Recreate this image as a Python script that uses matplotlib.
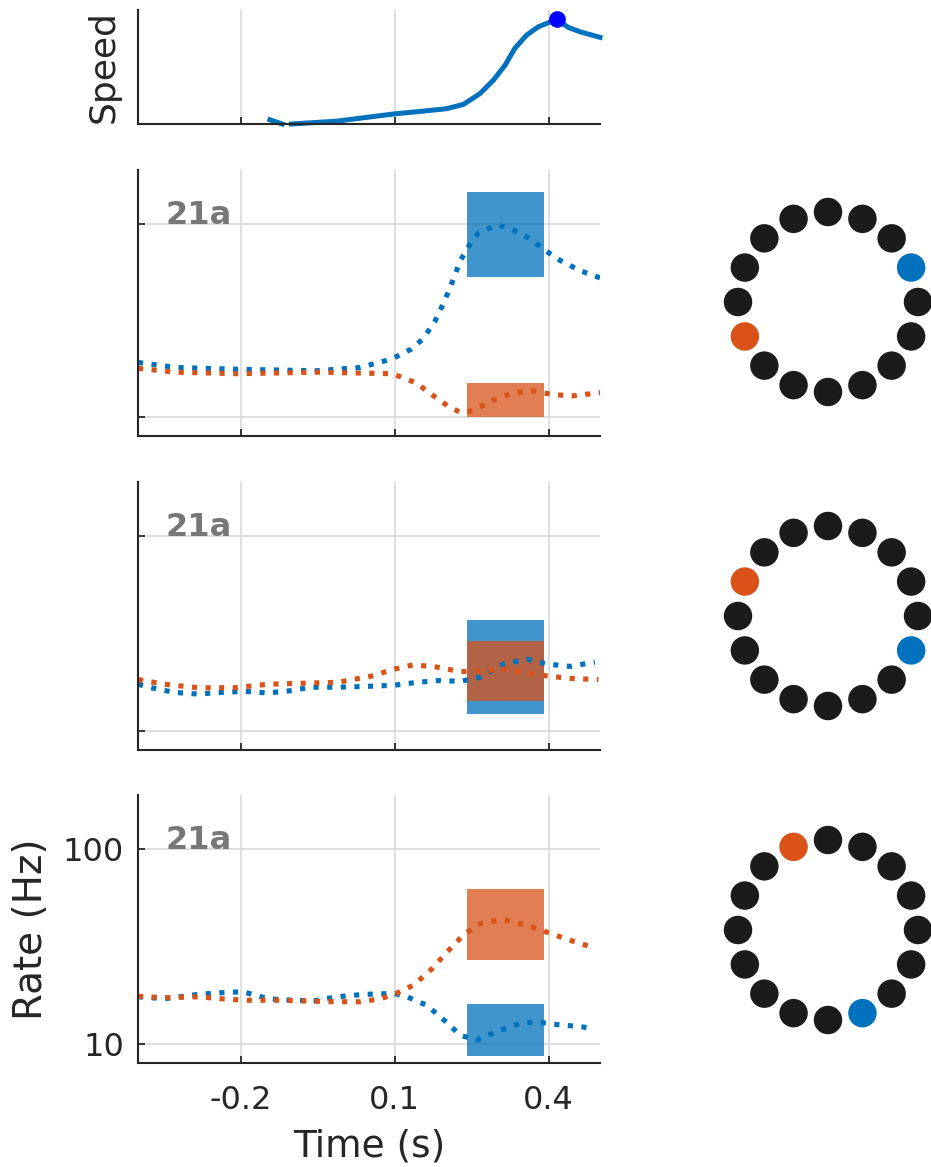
import numpy as np
import matplotlib
matplotlib.use("Agg")
from matplotlib import pyplot as plt
from matplotlib.ticker import NullLocator

# colours (matlab default order)
BLUE = "#0072BD"
ORANGE = "#D95319"
DOT = "#1b1b1b"
AXCOL = "#262626"
GRIDCOL = "#dcdcdc"

# ---- data ----
xticks = [-0.2, 0.1, 0.4]
xtick_labels = ["-0.2", "0.1", "0.4"]
yticks = [10, 100]
ytick_labels = ["10", "100"]
box_window = [0.24, 0.39]
area_label = "21a"

# speed trace (arbitrary units), nan = gap in the trace
speed_t = [-0.143, -0.119, np.nan, -0.101, -0.013, 0.102, 0.149, 0.201, 0.234, 0.266,
           0.292, 0.315, 0.334, 0.357, 0.380, 0.399, 0.416, 0.438, 0.461, 0.5]
speed_v = [0.037, 0.0, np.nan, 0.0, 0.025, 0.09, 0.110, 0.134, 0.172, 0.266,
           0.383, 0.515, 0.663, 0.780, 0.853, 0.888, 0.918, 0.848, 0.809, 0.760]
peak_t = 0.416
peak_v = 0.918

# panel 1
p1_blue_t = [-0.4, -0.327, -0.205, -0.051, 0.033, 0.094, 0.132, 0.155, 0.178, 0.197,
             0.213, 0.228, 0.243, 0.263, 0.301, 0.331, 0.362, 0.393, 0.423, 0.462, 0.5]
p1_blue_rate = [19.2, 18.1, 17.7, 17.4, 18.1, 20.0, 22.5, 25.4, 31.2, 39.8,
                50.7, 64.6, 75.7, 89.7, 98.9, 93.0, 84.3, 73.0, 64.6, 57.2, 52.6]
p1_orange_t = [-0.4, -0.327, -0.205, -0.051, 0.094, 0.117, 0.140, 0.163, 0.186,
               0.209, 0.232, 0.255, 0.293, 0.331, 0.370, 0.408, 0.446, 0.5]
p1_orange_rate = [17.9, 17.1, 16.8, 17.1, 16.8, 16.0, 15.1, 13.7, 12.3,
                  11.2, 10.5, 10.9, 12.3, 13.4, 13.7, 13.1, 12.9, 13.4]
p1_blue_box = [53, 147]
p1_orange_box = [10, 15]

# panel 2
p2_blue_t = [-0.4, -0.374, -0.329, -0.283, -0.238, -0.193, -0.147, -0.105, -0.063, -0.012,
             0.053, 0.099, 0.144, 0.189, 0.228, 0.267, 0.312, 0.358, 0.396, 0.442, 0.49]
p2_blue_rate = [17.4, 16.7, 15.8, 15.5, 15.8, 16.0, 15.7, 16.1, 16.8, 16.8,
                17.0, 17.2, 17.8, 18.2, 18.0, 18.9, 22.1, 23.4, 22.1, 21.5, 22.6]
p2_orange_t = [-0.4, -0.348, -0.283, -0.212, -0.147, -0.083, -0.012, 0.053, 0.099,
               0.137, 0.183, 0.228, 0.273, 0.315, 0.361, 0.403, 0.448, 0.497]
p2_orange_rate = [18.4, 17.4, 16.7, 16.7, 17.4, 17.6, 17.8, 19.1, 20.8,
                  21.9, 21.3, 20.2, 20.4, 20.8, 19.8, 19.1, 18.6, 18.4]
p2_blue_box = [12.3, 37]
p2_orange_box = [14.3, 29.1]

# panel 3
p3_blue_t = [-0.4, -0.348, -0.283, -0.219, -0.193, -0.147, -0.102, -0.057, -0.012, 0.040, 0.099,
             0.124, 0.163, 0.196, 0.228, 0.260, 0.299, 0.345, 0.377, 0.416, 0.461, 0.49]
p3_blue_rate = [17.5, 17.1, 18.0, 18.5, 18.5, 17.1, 16.8, 16.7, 17.5, 18.0, 18.2,
                17.5, 15.8, 13.3, 11.1, 10.5, 11.6, 12.8, 13.0, 12.6, 12.3, 12.0]
p3_orange_t = [-0.4, -0.348, -0.283, -0.238, -0.193, -0.122, -0.057, -0.012, 0.034, 0.073, 0.105,
               0.137, 0.173, 0.202, 0.235, 0.267, 0.312, 0.358, 0.396, 0.442, 0.487]
p3_orange_rate = [17.6, 17.3, 17.5, 17.1, 16.8, 16.8, 16.6, 16.5, 16.5, 17.1, 18.3,
                  20.1, 24.4, 29.7, 36.6, 41.6, 43.6, 40.7, 37.6, 34.1, 31.3]
p3_blue_box = [8.7, 16]
p3_orange_box = [27, 62.5]

# target ring: 16 targets, angle (deg) of the blue / orange target per panel
ring_angles = np.arange(16) * 22.5
blue_target = [22.5, 337.5, 292.5]
orange_target = [202.5, 157.5, 112.5]

W, H = 931, 1167


def px_axes(fig, left, top, right, bottom):
    # axes from pixel box (top-left origin)
    return fig.add_axes([left / W, (H - bottom) / H, (right - left) / W, (bottom - top) / H])


def style_axes(ax):
    for s in ["top", "right"]:
        ax.spines[s].set_visible(False)
    for s in ["left", "bottom"]:
        ax.spines[s].set_color(AXCOL)
        ax.spines[s].set_linewidth(1.5)
    ax.tick_params(direction="in", length=5, width=1.3, color=AXCOL,
                   labelcolor=AXCOL, labelsize=23)
    ax.tick_params(axis="x", pad=15.5)
    ax.tick_params(axis="y", pad=10)
    ax.set_xlim(-0.4, 0.5)
    ax.set_xticks(xticks)
    ax.set_axisbelow(True)


def rate_panel(ax, blue_t, blue_r, orange_t, orange_r, blue_box, orange_box, last=False):
    style_axes(ax)
    ax.set_yscale("log")
    ax.set_ylim(8, 190)
    ax.set_yticks(yticks)
    ax.yaxis.set_minor_locator(NullLocator())
    ax.grid(True, color=GRIDCOL, linewidth=1.3)
    if last:
        ax.set_yticklabels(ytick_labels)
        ax.set_xticklabels(xtick_labels)
    else:
        ax.set_yticklabels([])
        ax.set_xticklabels([])
    # blue first, then orange on top
    ax.fill_between(box_window, blue_box[0], blue_box[1], color=BLUE, alpha=0.75, lw=0)
    ax.plot(blue_t, blue_r, ":", color=BLUE, lw=3.7)
    ax.fill_between(box_window, orange_box[0], orange_box[1], color=ORANGE, alpha=0.75, lw=0)
    ax.plot(orange_t, orange_r, ":", color=ORANGE, lw=3.7)
    ax.text(-0.347, 100, area_label, fontsize=23, fontweight="bold", color="#777777",
            ha="left", va="baseline")


def ring(fig, cy, blue_a, orange_a):
    ax = px_axes(fig, 828 - 105, cy - 105, 828 + 105, cy + 105)
    ax.set_xlim(-1.1667, 1.1667)
    ax.set_ylim(-1.1667, 1.1667)
    ax.axis("off")
    cols = []
    for a in ring_angles:
        if np.isclose(a, blue_a):
            cols.append(BLUE)
        elif np.isclose(a, orange_a):
            cols.append(ORANGE)
        else:
            cols.append(DOT)
    th = np.deg2rad(ring_angles)
    ax.scatter(np.cos(th), np.sin(th), s=420, c=cols, linewidths=0, clip_on=False)


fig = plt.figure(figsize=(W / 100, H / 100), dpi=100)

# speed panel
ax0 = px_axes(fig, 138, 10, 600, 124)
style_axes(ax0)
ax0.set_ylim(0, 1)
ax0.set_yticks([])
ax0.set_xticklabels([])
ax0.grid(True, axis="x", color=GRIDCOL, linewidth=1.3)
ax0.plot(speed_t, speed_v, "-", color=BLUE, lw=3.6, clip_on=False)
ax0.plot(peak_t, peak_v, "o", color="#0000FF", markersize=11, clip_on=False)
ax0.set_ylabel("Speed", fontsize=26, color=AXCOL, labelpad=12.5)

ax1 = px_axes(fig, 138, 170, 600, 436)
rate_panel(ax1, p1_blue_t, p1_blue_rate, p1_orange_t, p1_orange_rate, p1_blue_box, p1_orange_box)
ax2 = px_axes(fig, 138, 482, 600, 750)
rate_panel(ax2, p2_blue_t, p2_blue_rate, p2_orange_t, p2_orange_rate, p2_blue_box, p2_orange_box)
ax3 = px_axes(fig, 138, 795, 600, 1063)
rate_panel(ax3, p3_blue_t, p3_blue_rate, p3_orange_t, p3_orange_rate, p3_blue_box, p3_orange_box, last=True)
ax3.set_ylabel("Rate (Hz)", fontsize=28, color=AXCOL, labelpad=9.5)
ax3.set_xlabel("Time (s)", fontsize=27, color=AXCOL, labelpad=9)

ring(fig, 302, blue_target[0], orange_target[0])
ring(fig, 616, blue_target[1], orange_target[1])
ring(fig, 930, blue_target[2], orange_target[2])

fig.savefig("out.png", dpi=100)
